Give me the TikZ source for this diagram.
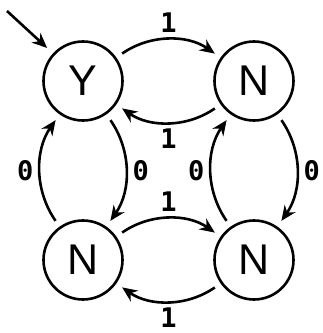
\documentclass[tikz,border=0pt]{standalone}
\usepackage{fontspec}
\setmainfont{Liberation Sans}
\newfontfamily\digitfont{DejaVu Sans Mono}
\usetikzlibrary{arrows.meta}

\begin{document}
\begin{tikzpicture}[x=1pt, y=1pt, line width=2.6pt,
    state/.style={draw, circle, minimum size=79pt, inner sep=0pt,
      font=\fontsize{43}{43}\selectfont},
    trans/.style={-{Stealth[length=15pt,width=13pt]}, shorten >=7pt, shorten <=7pt, bend left=35},
    sym/.style={font=\digitfont\bfseries\fontsize{27}{27}\selectfont, inner sep=6pt}]
    \useasboundingbox (0,0) rectangle (323,333);

    % states
    \node[state] (yes) at (83,252) {Y};
    \node[state] (noA) at (254,252) {N};
    \node[state] (noB) at (83,73) {N};
    \node[state] (noC) at (254,73) {N};

    % start
    \coordinate (start) at (7,322);
    \draw[-{Stealth[length=15pt,width=13pt]}, shorten >=8pt] (start) -- (yes);

    % transitions on 1
    \draw[trans] (yes) to node[sym, auto] {1} (noA);
    \draw[trans] (noA) to node[sym, auto] {1} (yes);
    \draw[trans] (noB) to node[sym, auto] {1} (noC);
    \draw[trans] (noC) to node[sym, auto] {1} (noB);

    % transitions on 0
    \draw[trans] (yes) to node[sym, auto] {0} (noB);
    \draw[trans] (noB) to node[sym, auto] {0} (yes);
    \draw[trans] (noA) to node[sym, auto] {0} (noC);
    \draw[trans] (noC) to node[sym, auto] {0} (noA);
\end{tikzpicture}
\end{document}
